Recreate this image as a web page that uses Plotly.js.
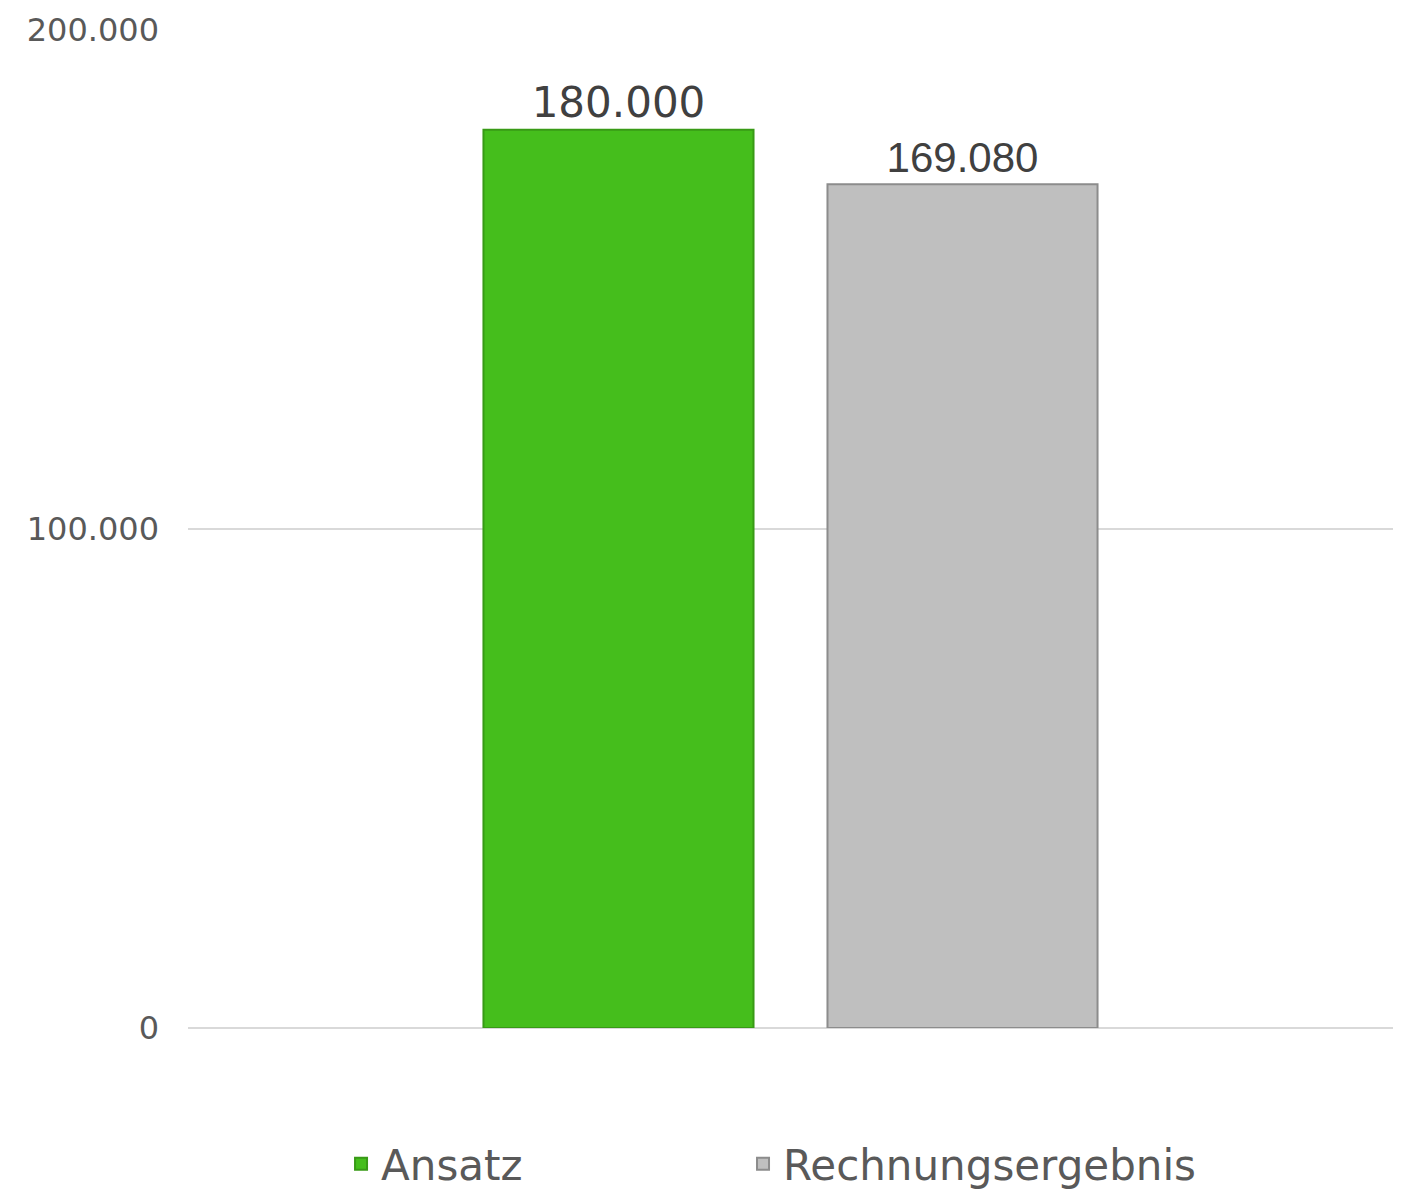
<!DOCTYPE html>
<html>
<head>
<meta charset="utf-8">
<script src="https://cdn.plot.ly/plotly-3.0.1.min.js"></script>
<style>html,body{margin:0;padding:0;background:#fff;}#chart{width:1404px;height:1189px;}</style>
</head>
<body>
<div id="chart"></div>
<script>
var categories = [""];
var seriesNames = ["Ansatz", "Rechnungsergebnis"];
var ansatzValues = [180000];
var rechnungValues = [169080];
var ansatzLabels = ["180.000"];
var rechnungLabels = ["169.080"];
var tickValues = [0, 100000, 200000];
var tickLabels = ["0", "100.000", "200.000"];

var traces = [
  {
    type: "bar",
    name: seriesNames[0],
    x: categories,
    y: ansatzValues,
    text: ansatzLabels,
    textposition: "outside",
    textfont: {family: "DejaVu Sans", size: 42, color: "#404040"},
    marker: {color: "#45BE1C", line: {color: "#389A16", width: 2}},
    cliponaxis: false,
    hoverinfo: "none",
    legend: "legend"
  },
  {
    type: "bar",
    name: seriesNames[1],
    x: categories,
    y: rechnungValues,
    text: rechnungLabels,
    textposition: "outside",
    textfont: {family: "Liberation Sans", size: 42, color: "#404040"},
    marker: {color: "#BFBFBF", line: {color: "#8C8C8C", width: 2}},
    cliponaxis: false,
    hoverinfo: "none",
    legend: "legend2"
  }
];

var legendFont = {family: "DejaVu Sans", size: 42, color: "#595959"};

var layout = {
  width: 1404,
  height: 1189,
  margin: {l: 188, r: 11, t: 30, b: 161, autoexpand: false},
  paper_bgcolor: "#ffffff",
  plot_bgcolor: "#ffffff",
  barmode: "group",
  bargap: 0.429,
  bargroupgap: 0.215,
  showlegend: true,
  font: {family: "DejaVu Sans", color: "#595959"},
  xaxis: {
    showticklabels: false,
    showgrid: false,
    zeroline: false,
    showline: false,
    ticks: ""
  },
  yaxis: {
    range: [0, 200000],
    tickvals: tickValues,
    ticktext: tickLabels,
    showgrid: true,
    gridcolor: "#D9D9D9",
    gridwidth: 2,
    zeroline: true,
    zerolinecolor: "#D9D9D9",
    zerolinewidth: 2,
    showline: false,
    ticks: "",
    ticklabelstandoff: 28,
    tickfont: {family: "DejaVu Sans", size: 32, color: "#595959"}
  },
  legend: {
    orientation: "h",
    x: 0.127,
    xanchor: "left",
    y: -0.1363,
    yanchor: "middle",
    font: legendFont,
    itemwidth: 30
  },
  legend2: {
    orientation: "h",
    x: 0.4606,
    xanchor: "left",
    y: -0.1363,
    yanchor: "middle",
    font: legendFont,
    itemwidth: 30
  }
};

Plotly.newPlot("chart", traces, layout, {displayModeBar: false, staticPlot: true});
</script>
</body>
</html>
